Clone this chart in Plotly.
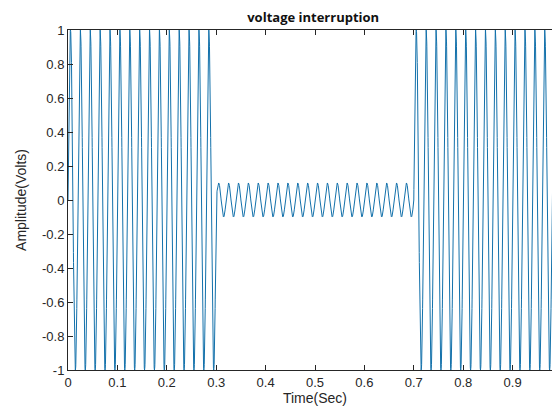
import numpy as np
import plotly.graph_objects as go

# Signal description
seg_start = [0.0, 0.3, 0.7]
seg_end = [0.3, 0.7, 1.0]
seg_amplitude = [1.0, 0.1, 1.0]
frequency_hz = 50
sample_step = 0.0002

x_ticks = [0, 0.1, 0.2, 0.3, 0.4, 0.5, 0.6, 0.7, 0.8, 0.9, 1]
x_tick_text = ["0", "0.1", "0.2", "0.3", "0.4", "0.5", "0.6", "0.7", "0.8", "0.9", "1"]
y_ticks = [-1, -0.8, -0.6, -0.4, -0.2, 0, 0.2, 0.4, 0.6, 0.8, 1]
y_tick_text = ["-1", "-0.8", "-0.6", "-0.4", "-0.2", "0", "0.2", "0.4", "0.6", "0.8", "1"]

t = np.arange(0, 1 + sample_step / 2, sample_step)
amp = np.zeros_like(t)
for s, e, a in zip(seg_start, seg_end, seg_amplitude):
    amp[(t >= s) & (t <= e)] = a
v = amp * np.sin(2 * np.pi * frequency_hz * t)

fig = go.Figure()
fig.add_trace(go.Scatter(x=t, y=v, mode="lines",
                         line=dict(color="#1371ab", width=1),
                         showlegend=False, hoverinfo="skip"))

axis_common = dict(showgrid=False, zeroline=False, showline=True, linecolor="#262626",
                   linewidth=1, mirror="allticks", ticks="inside", ticklen=5, automargin=False,
                   tickcolor="#262626", tickfont=dict(family="Liberation Sans, Arial", size=13, color="#262626"))

fig.update_layout(
    width=560, height=412,
    paper_bgcolor="white", plot_bgcolor="white",
    margin=dict(l=60, r=6, t=22, b=50),
    title=dict(text="<b>voltage interruption</b>", x=0.545, xanchor="center", y=0.978, yanchor="middle",
               font=dict(family="Open Sans, Liberation Sans", size=13, color="#111111")),
    xaxis=dict(range=[0, 1], tickvals=x_ticks, ticktext=x_tick_text,
               title=dict(text="Time(Sec)", standoff=3,
                          font=dict(family="Liberation Sans, Arial", size=14, color="#262626")),
               **axis_common),
    yaxis=dict(range=[-1, 1], tickvals=y_ticks, ticktext=y_tick_text,
               title=dict(text="Amplitude(Volts)", standoff=12,
                          font=dict(family="Liberation Sans, Arial", size=14, color="#262626")),
               **axis_common),
)

fig.write_html("out.html")
